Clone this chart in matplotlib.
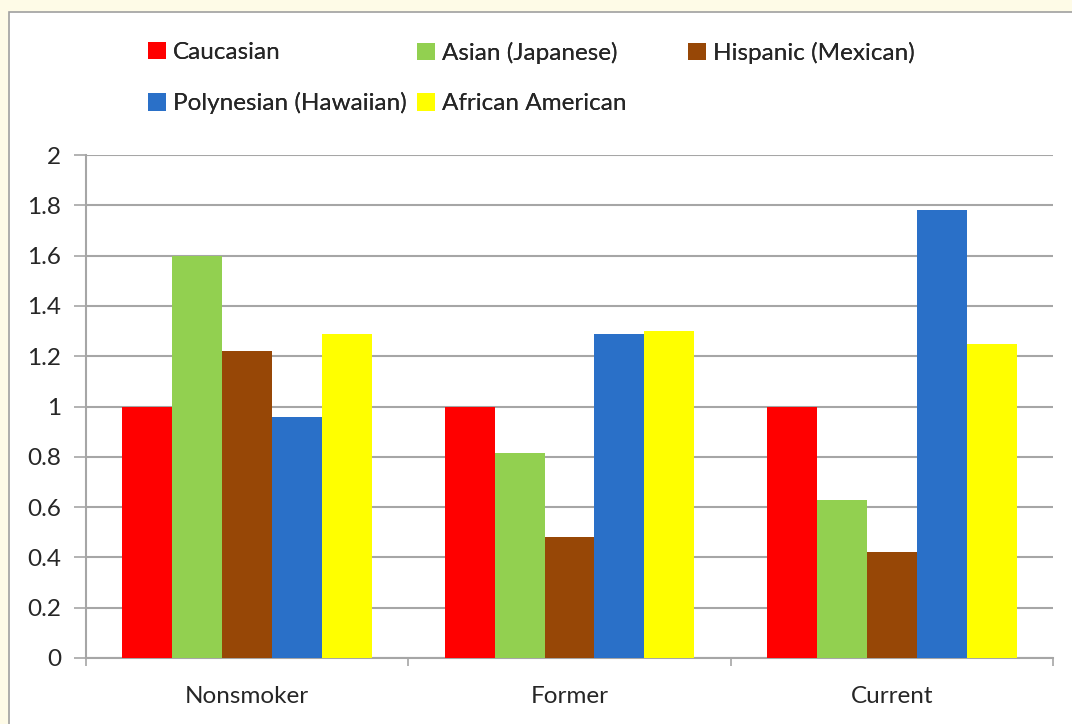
import numpy as np
import matplotlib.pyplot as plt
from matplotlib.patches import Patch, Rectangle

plt.rcParams['font.family'] = ['Lato', 'DejaVu Sans']

groups = ['Nonsmoker', 'Former', 'Current']
series = ['Caucasian', 'Asian (Japanese)', 'Hispanic (Mexican)',
          'Polynesian (Hawaiian)', 'African American']
values = {
    'Caucasian':             [1.00, 1.00, 1.00],
    'Asian (Japanese)':      [1.60, 0.815, 0.63],
    'Hispanic (Mexican)':    [1.22, 0.48, 0.42],
    'Polynesian (Hawaiian)': [0.96, 1.29, 1.78],
    'African American':      [1.29, 1.30, 1.25],
}
colors = ['#FF0000', '#92D050', '#974706', '#2A70C8', '#FFFF00']
yticks = [0, 0.2, 0.4, 0.6, 0.8, 1, 1.2, 1.4, 1.6, 1.8, 2]

txt = '#262626'
grid = '#A6A6A6'
fs = 17.5

fig = plt.figure(figsize=(10.72, 7.24), dpi=100)
fig.patch.set_facecolor('#FEFBE7')
# white chart panel with thin grey frame
fig.patches.append(Rectangle((9/1072, -0.01), 1.1, 1 - 12/724 + 0.01,
                             transform=fig.transFigure, facecolor='white',
                             edgecolor='#A0A0A0', linewidth=1.2, zorder=-5))

ax = fig.add_axes([86/1072, 1 - 658/724, (1053 - 86)/1072, (658 - 155)/724])
ax.set_facecolor('white')

x = np.arange(len(groups))
w = 0.155
handles = []
for i, name in enumerate(series):
    ax.bar(x + (i - 2) * w, values[name], width=w, color=colors[i],
           linewidth=0, zorder=3)
    handles.append(Patch(facecolor=colors[i], edgecolor='none'))

ax.set_ylim(0, 2)
ax.set_xlim(-0.5, 2.5)
ax.set_yticks(yticks)
ax.set_yticklabels(['%g' % t for t in yticks])
ax.yaxis.grid(True, color=grid, linewidth=1.5, zorder=0)
ax.set_axisbelow(True)

ax.set_xticks(x)
ax.set_xticklabels(groups)
ax.set_xticks([-0.5, 0.5, 1.5, 2.5], minor=True)
ax.tick_params(axis='x', which='major', length=0, pad=20, labelsize=fs, colors=txt)
ax.tick_params(axis='x', which='minor', length=6, width=1.2, color=grid)
ax.tick_params(axis='y', length=9, width=1.2, color=grid, pad=9, labelsize=fs,
               labelcolor=txt)

for s in ['top', 'right']:
    ax.spines[s].set_visible(False)
for s in ['left', 'bottom']:
    ax.spines[s].set_color(grid)
    ax.spines[s].set_linewidth(1.5)

# legend laid out in fixed-width columns, filled row by row
cols = [[0, 3], [1, 4], [2]]
col_x = [148, 417, 688]
for cx, idx in zip(col_x, cols):
    leg = fig.legend([handles[k] for k in idx], [series[k] for k in idx],
                     loc='upper left', bbox_to_anchor=(cx/1072, 1 - 42/724),
                     frameon=False, fontsize=fs, labelcolor=txt,
                     handlelength=0.72, handleheight=0.72, handletextpad=0.3,
                     labelspacing=1.2, borderaxespad=0, borderpad=0)
    fig.add_artist(leg)

fig.savefig('out.png', dpi=100, facecolor=fig.get_facecolor())
